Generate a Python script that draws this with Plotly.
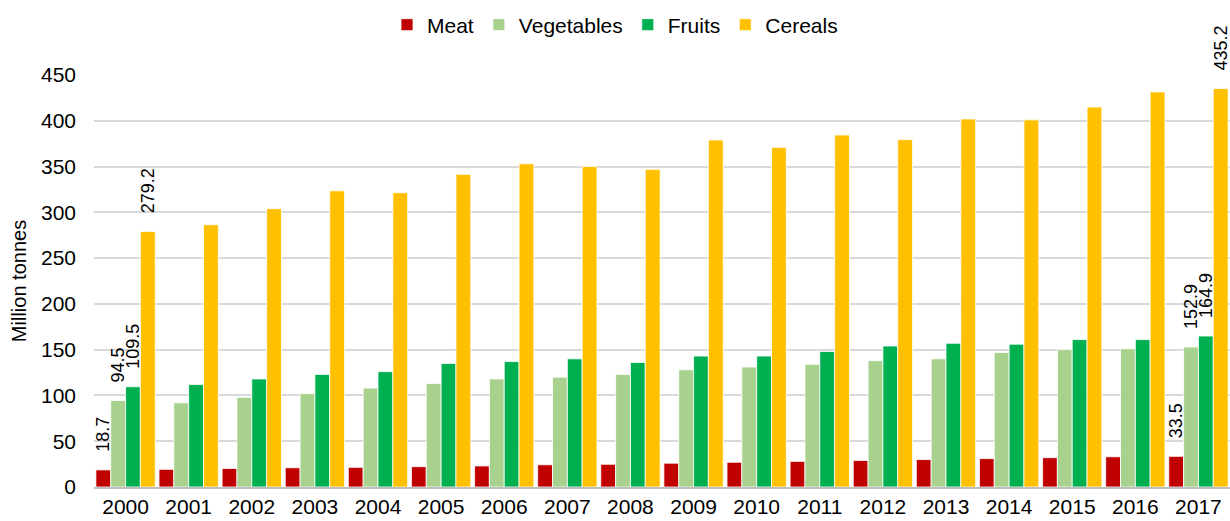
import plotly.graph_objects as go

years = [str(y) for y in range(2000, 2018)]
meat = [18.7, 19.3, 20.2, 21.0, 21.5, 22.2, 23.0, 24.3, 24.8, 26.0, 27.0, 28.0, 29.0, 30.0, 31.0, 32.0, 33.0, 33.5]
vegetables = [94.5, 92.0, 98.0, 102.0, 108.0, 113.0, 118.0, 120.0, 123.0, 128.0, 131.0, 134.0, 138.0, 140.0, 147.0, 150.0, 151.0, 152.9]
fruits = [109.5, 112.0, 118.0, 123.0, 126.0, 135.0, 137.0, 140.0, 136.0, 143.0, 143.0, 148.0, 154.0, 157.0, 156.0, 161.0, 161.0, 164.9]
cereals = [279.2, 286.5, 304.0, 323.5, 321.5, 341.5, 353.0, 350.0, 347.0, 379.0, 371.0, 384.5, 379.5, 402.0, 401.0, 415.0, 431.5, 435.2]

series = [
    ("Meat", meat, "#C00000"),
    ("Vegetables", vegetables, "#A9D18E"),
    ("Fruits", fruits, "#00B050"),
    ("Cereals", cereals, "#FFC000"),
]

font = "Liberation Sans, Arial, sans-serif"
pad = "\u00a0" * 3  # gap between bar top and its rotated label

fig = go.Figure()
for name, vals, color in series:
    # label only the first and last year
    labels = [pad + f"{v:.1f}" if i in (0, len(vals) - 1) else "" for i, v in enumerate(vals)]
    fig.add_trace(go.Bar(
        x=years, y=vals, name=name,
        marker=dict(color=color, line=dict(color="white", width=0.8)),
        text=labels, textposition="outside", textangle=-90,
        constraintext="none",
        textfont=dict(size=18, color="#000000", family=font),
        cliponaxis=False,
    ))

fig.update_layout(
    barmode="group",
    bargap=0.06,
    bargroupgap=0,
    width=1230, height=521,
    margin=dict(l=94, r=0, t=75, b=34),
    paper_bgcolor="white",
    plot_bgcolor="white",
    font=dict(family=font, size=21, color="#000000"),
    legend=dict(
        orientation="h", xref="container", x=0.5, xanchor="center",
        yref="container", y=0.952, yanchor="middle",
        font=dict(size=21), itemwidth=30,
    ),
)
fig.update_xaxes(
    showline=True, linecolor="#BFBFBF", linewidth=1.5,
    ticks="", automargin=False,
    tickfont=dict(size=21),
)
fig.update_yaxes(
    range=[0, 450], dtick=50,
    showgrid=True, gridcolor="#D9D9D9", gridwidth=1.5,
    zeroline=False, showline=False, automargin=False,
    ticks="", ticklabelstandoff=17,
    title=dict(text="Million tonnes", font=dict(size=20), standoff=8),
    tickfont=dict(size=21),
)

# drop the browser's default body margin so the figure sits at the page corner
fig.write_html(
    "out.html",
    config={"displayModeBar": False},
    post_script="document.body.style.margin='0';",
)
